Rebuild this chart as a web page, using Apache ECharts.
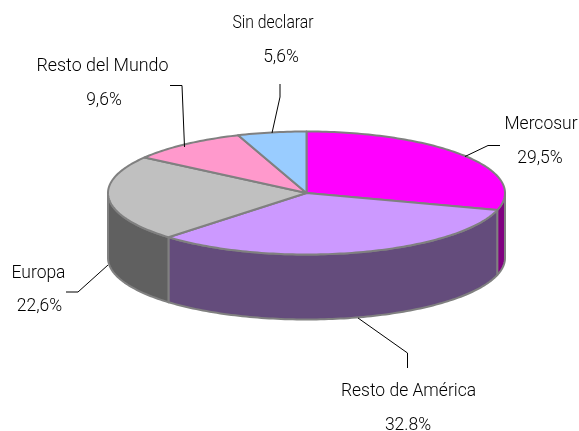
<!DOCTYPE html>
<html>
<head>
<meta charset="utf-8">
<style>html,body{margin:0;padding:0;background:#fff}#c{width:579px;height:431px}</style>
<script src="https://cdn.jsdelivr.net/npm/echarts@6/dist/echarts.min.js"></script>
</head>
<body>
<div id="c"></div>
<script>
const categories = ['Mercosur', 'Resto de América', 'Europa', 'Resto del Mundo', 'Sin declarar'];
const shares = [29.5, 32.8, 22.6, 9.6, 5.6];
const shareLabels = ['29,5%', '32.8%', '22,6%', '9,6%', '5,6%'];

const topColors = ['#FF00FF', '#CC99FF', '#C0C0C0', '#FF99CC', '#99CCFF'];
const wallColors = ['#800080', '#644C7C', '#606060', '#7F4C66', '#4C667F'];
const pie = { cx: 306.5, cy: 193, rx: 198.5, ry: 61.5, depth: 65 };
const labelLayout = [
  { name: [541, 124], value: [540, 158], scale: 0.92, leader: [[465, 156.5], [488, 145.5], [500, 145.5]] },
  { name: [408.5, 391], value: [408, 425], scale: 0.92, leader: [[358, 318], [407.5, 353], [407.5, 368]] },
  { name: [38.5, 273], value: [39.5, 306], scale: 0.92, leader: [[108, 265], [78, 292], [66, 292]] },
  { name: [102.5, 66], value: [104, 100], scale: 0.94, leader: [[170, 85.5], [182, 85.5], [184.5, 147]] },
  { name: [273, 23], value: [281, 57], scale: 0.83, leader: [[280, 84], [280, 97], [272, 133]] }
];
const total = shares.reduce((a, b) => a + b, 0);
const textFont = '300 19px Roboto, "Liberation Sans", sans-serif';

function pt(a, dy) {
  return [pie.cx + pie.rx * Math.sin(a), pie.cy - pie.ry * Math.cos(a) + (dy || 0)];
}
function arc(a0, a1, dy) {
  const n = Math.max(2, Math.ceil(Math.abs(a1 - a0) / 0.02));
  const out = [];
  for (let i = 0; i <= n; i++) out.push(pt(a0 + (a1 - a0) * i / n, dy));
  return out;
}
function textEl(str, pos, scale) {
  return {
    type: 'text', z2: 5, silent: true,
    x: pos[0], y: pos[1], scaleX: scale,
    style: {
      text: str, x: 0, y: 0, align: 'center', verticalAlign: 'middle',
      fill: '#000', font: textFont
    }
  };
}

function renderItem(params, api) {
  const i = params.dataIndex;
  let before = 0;
  for (let k = 0; k < i; k++) before += shares[k];
  const a0 = before / total * Math.PI * 2;
  const a1 = (before + api.value(1)) / total * Math.PI * 2;
  const edge = { stroke: '#808080', lineWidth: 2, lineJoin: 'round' };
  const children = [];
  const w0 = Math.max(a0, Math.PI / 2), w1 = Math.min(a1, Math.PI * 1.5);
  if (w1 > w0) {
    const pts = arc(w0, w1, 0).concat(arc(w1, w0, pie.depth));
    children.push({
      type: 'polygon', z2: 1, shape: { points: pts },
      style: Object.assign({ fill: wallColors[i] }, edge)
    });
  }
  children.push({
    type: 'polygon', z2: 2, shape: { points: [[pie.cx, pie.cy]].concat(arc(a0, a1, 0)) },
    style: Object.assign({ fill: topColors[i] }, edge)
  });
  const lay = labelLayout[i];
  children.push({
    type: 'polyline', z2: 4, shape: { points: lay.leader },
    style: { stroke: '#000', lineWidth: 1, fill: 'none' }
  });
  children.push(textEl(categories[i], lay.name, lay.scale));
  children.push(textEl(shareLabels[i], lay.value, 0.92));
  return { type: 'group', children };
}

const chart = echarts.init(document.getElementById('c'), null, { renderer: 'canvas' });
chart.setOption({
  animation: false,
  backgroundColor: '#fff',
  series: [{
    type: 'custom',
    coordinateSystem: 'none',
    renderItem,
    data: shares.map((v, i) => [i, v])
  }]
});
</script>
</body>
</html>
